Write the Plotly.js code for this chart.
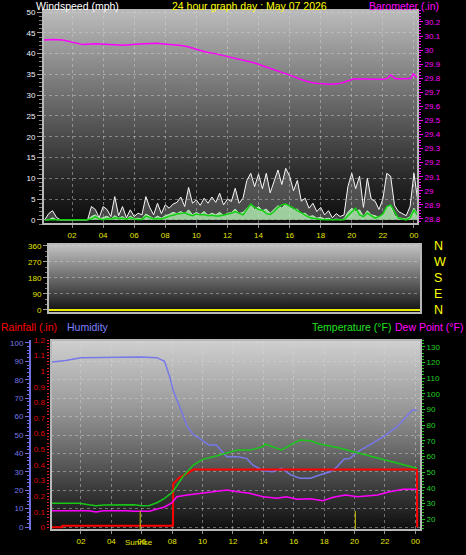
<!DOCTYPE html>
<html><head><meta charset="utf-8">
<script src="https://cdn.plot.ly/plotly-3.0.1.min.js"></script>
<style>html,body{margin:0;padding:0;background:#000;}#chart{width:466px;height:555px;}</style>
</head><body><div id="chart"></div>
<script>
// ---------- DATA ----------
const hourTickVals = [2,4,6,8,10,12,14,16,18,20,22,24];
const hourTickText = ["02","04","06","08","10","12","14","16","18","20","22","00"];

// wind samples every quarter hour from 0.25 h to 24.25 h
const windHours = [];
for (let i = 1; i <= 97; i++) windHours.push(i * 0.25);
const windGust = [0,1.5,2.2,0.6,0,0,0,0,0,0,0,0,3.2,2.5,0.5,3.2,2.5,0.8,5.6,1,3.2,0.5,2.4,0.8,1.6,1.2,5.6,3,1.2,4,1.5,3.6,2.8,3.8,4.2,5.5,3.2,7.8,4,4.8,3.5,5.2,4,5.5,4.2,6.4,3.6,5,4.4,7.6,4,5.2,9.5,11.2,8,11,7.5,11.2,6.5,9,12,8.5,12.4,10.5,7,9.5,4.5,5.2,2.8,4,2,3,1.2,2.2,0.5,1.5,0.8,1.2,8,11.2,7.5,10.5,3,10,5,4.5,2.5,5,11.2,10.5,3.5,2,1.5,1,3.2,11.2,4.5];
const windSpeed = [0,0,0.5,0,0,0,0,0,0,0,0,0,0.8,1.2,0.3,0.5,0.9,0.2,1.0,0.4,0.8,0.1,0.9,0.3,0.4,0.2,1.4,0.8,0.3,0.9,0.4,1.0,1.3,1.8,1.5,2.0,1.4,2.4,1.2,1.8,1.3,2.0,1.1,1.6,1.2,1.8,1.0,1.6,1.7,2.6,1.5,1.8,2.8,3.6,2.4,3.2,2.2,2.6,1.6,2.4,3.4,2.8,3.8,3.0,2.4,2.6,1.4,1.6,0.8,1.0,0.4,0.6,0.2,0.4,0,0.2,0,0.2,1.8,2.8,2.0,2.4,0.8,2.2,1.2,1.0,0.6,1.4,3.0,3.2,1.0,0.5,0.3,0.2,0.8,2.8,1.2];
const windAvg = [0,0,0.1,0,0,0,0,0,0,0,0,0,0.2,0.8,0.2,0,0.3,0.2,0.5,0.3,0.4,0.1,0.5,0.2,0.1,0.1,0.9,0.5,0.2,0.3,0.2,0.5,0.9,1.1,1.4,1.5,1.7,1.3,1.0,1.4,1.2,1.3,1.0,1.1,0.9,0.9,1.1,1.3,1.6,2.0,1.5,1.2,2.5,3.8,3.0,2.5,2.3,1.5,1.3,2.0,3.0,3.6,3.8,3.4,2.8,2.2,1.7,1.2,0.6,0.4,0.2,0.1,0,0,0,0,0,0,1.0,2.0,2.8,1.2,0.8,1.6,1.0,0.4,0.8,1.4,3.2,3.6,2.0,0.4,0.2,0,0.5,2.4,1.0];

const baroHours = [0.13,0.8,1.4,2.1,2.7,3.5,4.3,5.3,6.1,6.8,7.4,8.3,8.9,9.4,10.0,10.6,11.2,11.7,12.3,13.0,13.7,14.3,15.0,15.6,16.2,16.7,17.2,17.7,18.2,18.6,19.1,19.5,20.1,20.5,21.0,21.5,22.0,22.3,22.5,22.8,23.1,23.5,23.8,23.95,24.26];
const baroInHg = [30.072,30.075,30.072,30.053,30.039,30.046,30.042,30.034,30.041,30.044,30.048,30.039,30.035,30.025,30.006,29.987,29.975,29.963,29.948,29.930,29.910,29.887,29.862,29.840,29.815,29.793,29.775,29.764,29.758,29.757,29.760,29.771,29.795,29.796,29.795,29.792,29.793,29.800,29.823,29.797,29.795,29.797,29.800,29.830,29.800];

const dirHours = [0.0,6.0,12.0,18.0,24.4];
const dirDegrees = [0,0,0,0,0];
const dirTickVals = [0,90,180,270,360];
const compassText = ["N","E","S","W","N"];

const tempHours = [0.0,1.0,1.9,2.5,3.0,3.5,4.5,5.5,6.0,6.5,7.0,7.5,8.05,8.7,9.4,10.0,10.9,11.6,12.3,13.1,14.0,14.1,14.6,15.2,15.8,16.4,17.1,17.7,18.8,20.2,21.5,22.8,24.1];
const tempF = [30.0,30.0,30.0,29.1,28.5,29.0,29.1,29.1,28.5,28.6,30.4,33.2,37.4,47.0,54.5,58.1,60.2,62.0,64.0,64.0,66.2,67.9,66.2,64.1,67.3,70.4,70.0,67.9,65.8,62.3,58.8,55.6,52.4];

const dewHours = [0.0,2.5,3.0,3.5,5.0,5.5,6.5,7.0,7.5,8.0,8.3,9.0,10.0,10.9,11.6,12.3,13.1,14.0,14.9,15.5,16.2,17.1,17.9,18.6,19.4,20.2,21.5,22.3,23.2,24.1];
const dewF = [25.3,25.3,24.5,25.3,25.3,25.0,25.0,26.2,27.7,30.4,34.2,35.3,36.4,37.4,38.5,37.4,36.4,34.2,33.2,34.2,32.6,33.0,31.7,33.9,35.3,34.2,35.3,37.4,39.0,39.0];

const humHours = [0.1,1.0,2.0,3.0,4.0,5.0,6.0,7.0,7.5,7.9,8.05,8.5,9.0,9.4,9.8,10.4,10.9,11.6,12.3,12.9,13.3,14.0,14.6,15.2,15.8,16.4,17.1,17.7,18.4,18.8,19.3,19.7,20.2,21.0,21.9,22.8,23.4,23.8,24.1];
const humPct = [89.7,90.5,92.0,92.2,92.4,92.2,92.4,92.0,90.0,80.0,74.5,65.4,54.5,50.0,48.2,44.6,44.6,38.2,38.2,37.3,33.7,30.6,30.0,31.9,28.3,26.5,26.5,28.3,30.0,32.4,36.8,37.3,40.9,44.6,49.1,54.5,60.0,63.6,63.6];

const rainHours = [0.0,0.75,0.78,8.05,8.07,8.5,9.0,9.4,24.1,24.12];
const rainIn = [0,0,0.01,0.01,0.28,0.32,0.346,0.37,0.37,0];

const sunHours = [5.9, 20.05];

// ---------- helpers ----------
const W = 466, H = 555;
const fx = p => p / W;
const fy = p => 1 - p / H;

function gradientImage(stops, h) {
  const c = document.createElement('canvas');
  c.width = 4; c.height = h;
  const ctx = c.getContext('2d');
  const g = ctx.createLinearGradient(0, 0, 0, h);
  stops.forEach(s => g.addColorStop(s[0], s[1]));
  ctx.fillStyle = g; ctx.fillRect(0, 0, 4, h);
  return c.toDataURL('image/png');
}

const panels = {
  top: {x0: 43, x1: 418, y0: 10, y1: 224},
  mid: {x0: 48, x1: 421, y0: 244, y1: 313},
  bot: {x0: 51, x1: 421, y0: 340, y1: 530}
};

const bgStops = {
  top: [[0,'#bcbcbc'],[0.5,'#5c5c5c'],[0.8,'#262626'],[1,'#0c0c0c']],
  mid: [[0,'#c4c4c4'],[0.5,'#6a6a6a'],[1,'#0e0e0e']],
  bot: [[0,'#d0d0d0'],[0.35,'#9a9a9a'],[0.55,'#707070'],[0.78,'#3c3c3c'],[1,'#0e0e0e']]
};

const images = Object.keys(panels).map(k => {
  const p = panels[k];
  return {
    source: gradientImage(bgStops[k], p.y1 - p.y0),
    xref: 'paper', yref: 'paper', x: fx(p.x0), y: fy(p.y0),
    sizex: fx(p.x1) - fx(p.x0), sizey: fy(p.y0) - fy(p.y1),
    xanchor: 'left', yanchor: 'top', sizing: 'stretch', layer: 'below'
  };
});

const FONT = 'Liberation Sans, Arial, sans-serif';
const YEL = '#e4e400';
const GRID = 'rgba(215,215,215,0.45)';
const tf = (c, s) => ({family: FONT, size: s || 8, color: c});

// ---------- traces ----------
const traces = [
  {x: windHours, y: windGust, xaxis: 'x', yaxis: 'y', type: 'scatter', mode: 'lines',
   line: {color: '#f8f8f8', width: 1}, fill: 'tozeroy', fillcolor: 'rgba(200,200,200,0.3)', hoverinfo: 'skip'},
  {x: windHours, y: windSpeed, xaxis: 'x', yaxis: 'y', type: 'scatter', mode: 'lines',
   line: {color: '#b8f0b8', width: 1}, fill: 'tozeroy', fillcolor: 'rgba(180,240,180,0.8)', hoverinfo: 'skip'},
  {x: windHours, y: windAvg, xaxis: 'x', yaxis: 'y', type: 'scatter', mode: 'lines',
   line: {color: '#10d010', width: 1.5}, hoverinfo: 'skip'},
  {x: baroHours, y: baroInHg, xaxis: 'x', yaxis: 'y2', type: 'scatter', mode: 'lines',
   line: {color: '#ff00ff', width: 1.5}, hoverinfo: 'skip'},
  {x: dirHours, y: dirDegrees, xaxis: 'x2', yaxis: 'y3', type: 'scatter', mode: 'lines',
   line: {color: '#e8e800', width: 2}, hoverinfo: 'skip'},
  {x: [], y: [], xaxis: 'x2', yaxis: 'y4', type: 'scatter', mode: 'lines', hoverinfo: 'skip'},
  {x: humHours, y: humPct, xaxis: 'x3', yaxis: 'y5', type: 'scatter', mode: 'lines',
   line: {color: '#7878e8', width: 1.5}, hoverinfo: 'skip'},
  {x: tempHours, y: tempF, xaxis: 'x3', yaxis: 'y7', type: 'scatter', mode: 'lines',
   line: {color: '#18c818', width: 1.5}, hoverinfo: 'skip'},
  {x: dewHours, y: dewF, xaxis: 'x3', yaxis: 'y7', type: 'scatter', mode: 'lines',
   line: {color: '#ff00ff', width: 1.5}, hoverinfo: 'skip'},
  {x: rainHours, y: rainIn, xaxis: 'x3', yaxis: 'y6', type: 'scatter', mode: 'lines',
   line: {color: '#ff0000', width: 2}, hoverinfo: 'skip'}
];

// ---------- layout ----------
const shapes = Object.keys(panels).map(k => {
  const p = panels[k];
  return {type: 'rect', xref: 'paper', yref: 'paper', x0: fx(p.x0), x1: fx(p.x1), y0: fy(p.y1), y1: fy(p.y0),
          line: {color: '#b8b8b8', width: 2}, layer: 'above'};
});
sunHours.forEach(h => shapes.push({type: 'line', xref: 'x3', yref: 'paper', x0: h, x1: h,
  y0: fy(529), y1: fy(511), line: {color: '#c8c800', width: 1}}));

const ann = (text, x, y, color, xanchor, size) => ({text, x: fx(x), y: fy(y), xref: 'paper', yref: 'paper',
  xanchor: xanchor || 'left', yanchor: 'middle', showarrow: false, font: {family: FONT, size: size || 10.5, color}});

const layout = {
  width: W, height: H, margin: {l: 0, r: 0, t: 0, b: 0},
  paper_bgcolor: '#000', plot_bgcolor: 'rgba(0,0,0,0)', showlegend: false,
  images, shapes,
  annotations: [
    ann('Windspeed (mph)', 34, 6, '#ffffff'),
    ann('24 hour graph day : May 07 2026', 250, 6, '#ffff00', 'center'),
    ann('Barometer (.in)', 441, 6, '#ff00ff', 'right'),
    ann('Rainfall (.in)', -1, 327, '#ff0000'),
    ann('Humidity', 65, 327, '#8080ff'),
    ann('Temperature (°F)', 393, 327, '#20e020', 'right'),
    ann('Dew Point (°F)', 393, 327, '#ff00ff', 'left'),
    ann('Sunrise', 138.5, 542, YEL, 'center', 8)
  ],
  xaxis: {domain: [fx(43), fx(418)], range: [0.134, 24.26], anchor: 'y',
    tickmode: 'array', tickvals: hourTickVals, ticktext: hourTickText, tickfont: tf(YEL),
    ticks: 'outside', ticklen: 3, tickcolor: '#909090', showgrid: true, griddash: 'dot', gridcolor: GRID,
    zeroline: false, showline: false},
  yaxis: {domain: [fy(224), fy(10)], range: [-1, 50.5], anchor: 'x', dtick: 5, tick0: 0,
    tickfont: tf('#eef2ff'), ticks: 'outside', ticklen: 5, tickcolor: '#a0a0a0',
    minor: {tickmode: 'linear', tick0: 0, dtick: 1, ticks: 'outside', ticklen: 3, tickcolor: '#808080', showgrid: false},
    showgrid: true, griddash: 'dot', gridcolor: GRID, zeroline: false, showline: false},
  yaxis2: {overlaying: 'y', side: 'right', anchor: 'x', range: [28.764, 30.285], dtick: 0.1, tick0: 28.8,
    tickformat: '.3~g', tickfont: tf('#ff00ff'), ticks: 'outside', ticklen: 4, tickcolor: '#ff00ff',
    minor: {tickmode: 'linear', tick0: 28.8, dtick: 0.02, ticks: 'outside', ticklen: 2, tickcolor: '#ff00ff', showgrid: false},
    showgrid: false, zeroline: false, showline: false},
  xaxis2: {domain: [fx(48), fx(421)], range: [0.2, 24.4], anchor: 'y3', showticklabels: false,
    ticks: '', showgrid: false, zeroline: false, showline: false},
  yaxis3: {domain: [fy(313), fy(244)], range: [-17, 371], anchor: 'x2', tickmode: 'array', tickvals: dirTickVals,
    tickfont: tf(YEL), ticks: 'outside', ticklen: 4, tickcolor: '#a0a0a0',
    minor: {tickmode: 'linear', tick0: 0, dtick: 30, ticks: 'outside', ticklen: 2, tickcolor: '#808080', showgrid: false},
    showgrid: true, griddash: 'dot', gridcolor: GRID, zeroline: false, showline: false},
  yaxis4: {overlaying: 'y3', side: 'right', anchor: 'x2', range: [-17, 371], tickmode: 'array',
    tickvals: dirTickVals, ticktext: compassText, tickfont: tf('#ffff00', 12.5), ticks: '',
    ticklabelstandoff: 12, showgrid: false, zeroline: false, showline: false},
  xaxis3: {domain: [fx(51), fx(421)], range: [0.03, 24.37], anchor: 'y5',
    tickmode: 'array', tickvals: hourTickVals, ticktext: hourTickText, tickfont: tf(YEL),
    ticks: 'outside', ticklen: 3, tickcolor: '#909090', showgrid: true, griddash: 'dot', gridcolor: GRID,
    zeroline: false, showline: false},
  yaxis5: {domain: [fy(530), fy(340)], range: [-1.6, 101.6], anchor: 'free', position: fx(30), side: 'left',
    dtick: 10, tick0: 0, tickfont: tf('#7878e8'), ticks: 'outside', ticklen: 4, tickcolor: '#7070e0',
    minor: {tickmode: 'linear', tick0: 0, dtick: 2, ticks: 'outside', ticklen: 2, tickcolor: '#7070e0', showgrid: false},
    showline: true, linecolor: '#7070e0', linewidth: 2,
    showgrid: true, griddash: 'dot', gridcolor: GRID, zeroline: false},
  yaxis6: {overlaying: 'y5', anchor: 'free', position: fx(48.5), side: 'left', range: [-0.017, 1.2],
    dtick: 0.1, tick0: 0, tickformat: '.2~f', tickfont: tf('#e00000'), ticks: 'outside', ticklen: 2, tickcolor: '#ff2020',
    minor: {tickmode: 'linear', tick0: 0, dtick: 0.02, ticks: 'outside', ticklen: 2, tickcolor: '#e02020', showgrid: false},
    showgrid: false, zeroline: false, showline: false},
  yaxis7: {overlaying: 'y5', side: 'right', anchor: 'x3', range: [13.0, 134.3], dtick: 10, tick0: 0,
    tickfont: tf('#20d020'), ticks: 'outside', ticklen: 3, tickcolor: '#20d020',
    minor: {tickmode: 'linear', tick0: 0, dtick: 2, ticks: 'outside', ticklen: 2, tickcolor: '#20c020', showgrid: false},
    showgrid: false, zeroline: false, showline: false}
};

Plotly.newPlot('chart', traces, layout, {staticPlot: true, displayModeBar: false});
</script></body></html>
